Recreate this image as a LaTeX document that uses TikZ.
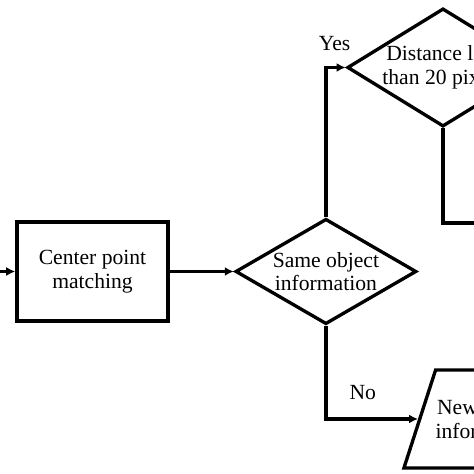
\documentclass[tikz,border=0pt]{standalone}
\usepackage{fontspec}
\setmainfont{Liberation Serif}
\usetikzlibrary{positioning, shapes.geometric, arrows.meta}

\begin{document}
\begin{tikzpicture}[
  every node/.style={font=\fontsize{12.3}{13.5}\selectfont},
  process/.style={draw, line width=2pt, minimum width=3.02cm, minimum height=1.98cm, align=center, inner sep=0pt},
  decision/.style={draw, diamond, line width=1.9pt, align=center, inner sep=0pt},
  iobox/.style={draw, trapezium, trapezium left angle=58, trapezium right angle=122, trapezium stretches=true, line width=1.9pt, minimum height=1.96cm, inner xsep=0pt, align=center},
  flow/.style={line width=2pt, -{Latex[length=1.8mm,width=1.8mm]}},
  link/.style={line width=2pt}
]
\useasboundingbox (0,0) rectangle (9.48,9.48);
\clip (0,0) rectangle (9.48,9.48);
\coordinate (start) at (0,4.05);
\node[process] (match) at (1.85,4.05) {Center point\\matching};
\node[decision, aspect=1.6, minimum width=3.62cm, right=1.28cm of match] (same) {Same object\\information};
\node[decision, aspect=1.62, minimum width=3.72cm] (dist) at (8.86,8.13) {Distance less\\than 20 pixels};
\node[iobox, anchor=west, xshift=-0.04cm] (newobj) at (8.40,1.10) {New object\\information};
\coordinate (next) at (10.5,5.02);

\draw[flow] (start) -- (match);
\draw[flow] (match) -- (same);
\draw[flow] (same.north) |- node[pos=0.72, above=0.18cm] {Yes} (dist.west);
\draw[flow] (same.south) |- node[pos=0.7, above=0.24cm] {No} (newobj.west);
\draw[link] (dist.south) |- (next);
\end{tikzpicture}
\end{document}
